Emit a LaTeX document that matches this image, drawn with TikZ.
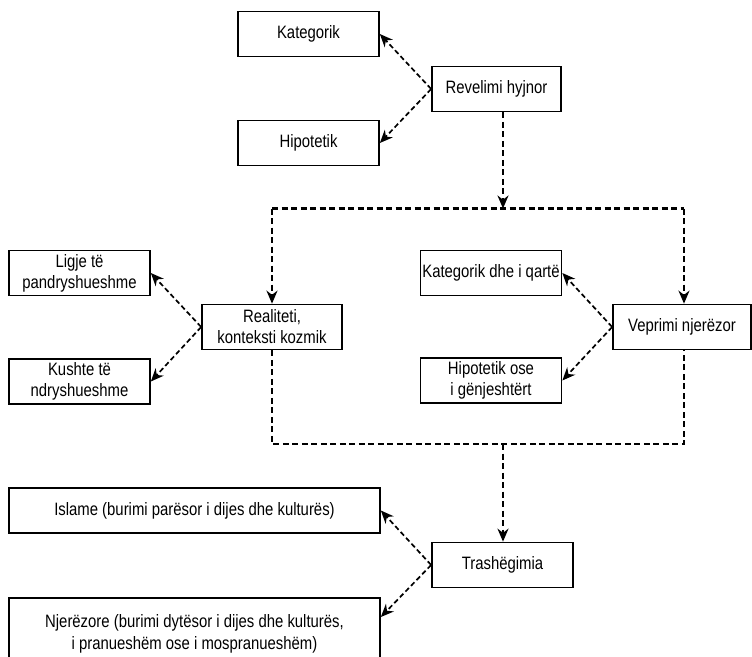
\documentclass[tikz,border=0pt]{standalone}
\usepackage{fontspec}
\setmainfont[FakeStretch=0.83]{Liberation Sans}
\usetikzlibrary{arrows.meta}
\tikzset{
  bx/.style={draw,line width=1.7bp,minimum height=45bp,inner sep=1bp,align=center,
    font=\fontsize{18}{21}\selectfont},
  sbx/.style={bx,minimum width=141bp},
  wbx/.style={bx,minimum width=371bp},
  dl/.style={line width=1.7bp,dash pattern=on 5bp off 3bp},
  da/.style={dl,-{Stealth[length=13bp,width=11bp]}},
  vl/.style={line width=2.3bp,dash pattern=on 6bp off 3.5bp},
  va/.style={vl,-{Stealth[length=13bp,width=11bp]}},
}
\begin{document}
\begin{tikzpicture}[x=1bp,y=-1bp]
  \useasboundingbox (0,0) rectangle (752,657);
  \node[sbx] (kat) at (308.5,34) {Kategorik};
  \node[sbx] (hip) at (308.5,143) {Hipotetik};
  \node[bx,minimum width=129bp] (rev) at (496.5,89) {Revelimi hyjnor};
  \node[sbx] (lig) at (79.5,273) {Ligje të\\pandryshueshme};
  \node[sbx] (kus) at (79.5,381.5) {Kushte të\\ndryshueshme};
  \node[bx,minimum width=140bp] (rea) at (272,327) {Realiteti,\\konteksti kozmik};
  \node[sbx] (kdq) at (491,273) {Kategorik dhe i qartë};
  \node[sbx] (hog) at (491,380.5) {Hipotetik ose\\i gënjeshtërt};
  \node[bx,minimum width=138bp] (vep) at (682,327) {Veprimi njerëzor};
  \node[sbx] (tra) at (502.5,565) {Trashëgimia};
  \node[wbx] (isl) at (194.5,510.5) {Islame (burimi parësor i dijes dhe kulturës)};
  \node[wbx,minimum height=72bp,anchor=north] (nje) at (194.5,597)
    {Njerëzore (burimi dytësor i dijes dhe kulturës,\\[2bp]i pranueshëm ose i mospranueshëm)};

  \coordinate (tl) at (272,208.5);
  \coordinate (tr) at (684,208.5);
  \coordinate (bl) at (272,444);
  \coordinate (br) at (684,444);
  \coordinate (top) at (503,208.5);
  \coordinate (bot) at (503,444);

  \draw[da] (rev.west) -- (kat.east);
  \draw[da] (rev.west) -- (hip.east);
  \draw[va] (top |- rev.south) -- (top);
  \draw[vl] (tl) -- (tr);
  \draw[va] (tl) -- (rea.north);
  \draw[va] (tr) -- (tr |- vep.north);
  \draw[vl] (rea.south) -- (bl) -- (br) -- (br |- vep.south);
  \draw[da] (rea.west) -- (lig.east);
  \draw[da] (rea.west) -- (kus.east);
  \draw[da] (vep.west) -- (kdq.east);
  \draw[da] (vep.west) -- (hog.east);
  \draw[va] (bot) -- (bot |- tra.north);
  \draw[da] (tra.west) -- (isl.east);
  \draw[da] (tra.west) -- (nje.north east |- 0,617);
\end{tikzpicture}
\end{document}
